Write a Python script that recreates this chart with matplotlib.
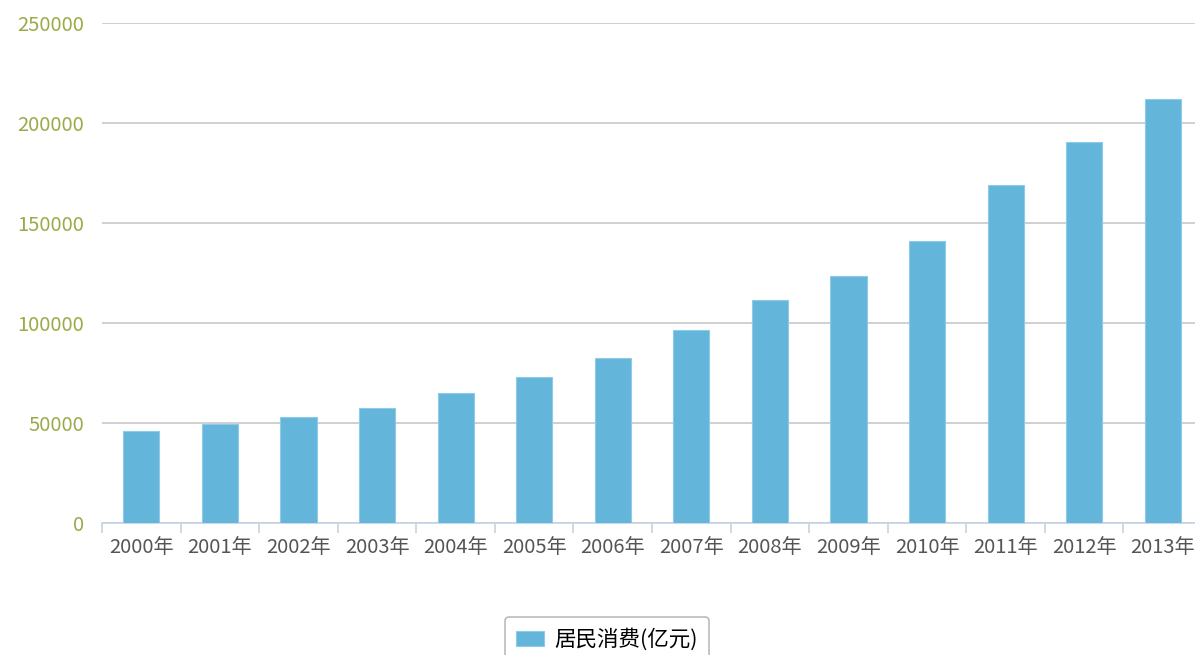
import numpy as np
import matplotlib.pyplot as plt
from matplotlib.ticker import FixedLocator

plt.rcParams['font.family'] = ['Noto Sans CJK SC', 'DejaVu Sans']

years = ['2000年', '2001年', '2002年', '2003年', '2004年', '2005年', '2006年',
         '2007年', '2008年', '2009年', '2010年', '2011年', '2012年', '2013年']
consumption = [45855, 49436, 53057, 57650, 65219, 72959, 82576,
               96333, 111670, 123585, 140759, 168957, 190424, 212188]
series_name = '居民消费(亿元)'
y_ticks = [0, 50000, 100000, 150000, 200000, 250000]

bar_color = '#63b5da'

fig = plt.figure(figsize=(11.95, 6.55), dpi=100)
# plot area runs slightly past the right edge, as in the original
ax = fig.add_axes([0.0854, 0.2015, 0.9205, 0.7634])

x = np.arange(len(years))
ax.bar(x, consumption, width=0.46, color=bar_color, edgecolor='#8fcbe6',
       linewidth=0.8, label=series_name, zorder=3)

ax.set_xlim(-0.5, len(years) - 0.5)
ax.set_ylim(0, 250000)
ax.set_yticks(y_ticks)
ax.set_yticklabels([str(v) for v in y_ticks])
ax.yaxis.grid(True, color='#c8c8c8', linewidth=1.2, zorder=0)

ax.set_xticks(x)
ax.set_xticklabels(years)
ax.xaxis.set_minor_locator(FixedLocator(np.arange(-0.5, len(years), 1.0)))
ax.tick_params(axis='x', which='major', length=0, pad=10, labelsize=14.5,
               labelcolor='#555555')
ax.tick_params(axis='x', which='minor', length=7, color='#c5d3e3', width=1.2)
ax.tick_params(axis='y', length=0, pad=13, labelsize=14.5, labelcolor='#9aaa48')

for side in ['top', 'right', 'left']:
    ax.spines[side].set_visible(False)
ax.spines['bottom'].set_color('#c5d3e3')
ax.spines['bottom'].set_linewidth(1.2)

leg = fig.legend(loc='upper center', bbox_to_anchor=(0.508, 0.075),
                 frameon=True, fancybox=True, fontsize=15.5, handlelength=1.3,
                 handleheight=0.75, borderpad=0.55, handletextpad=0.45)
leg.get_frame().set_edgecolor('#aaaaaa')
leg.get_frame().set_linewidth(1.2)

fig.savefig('out.png', dpi=100)
